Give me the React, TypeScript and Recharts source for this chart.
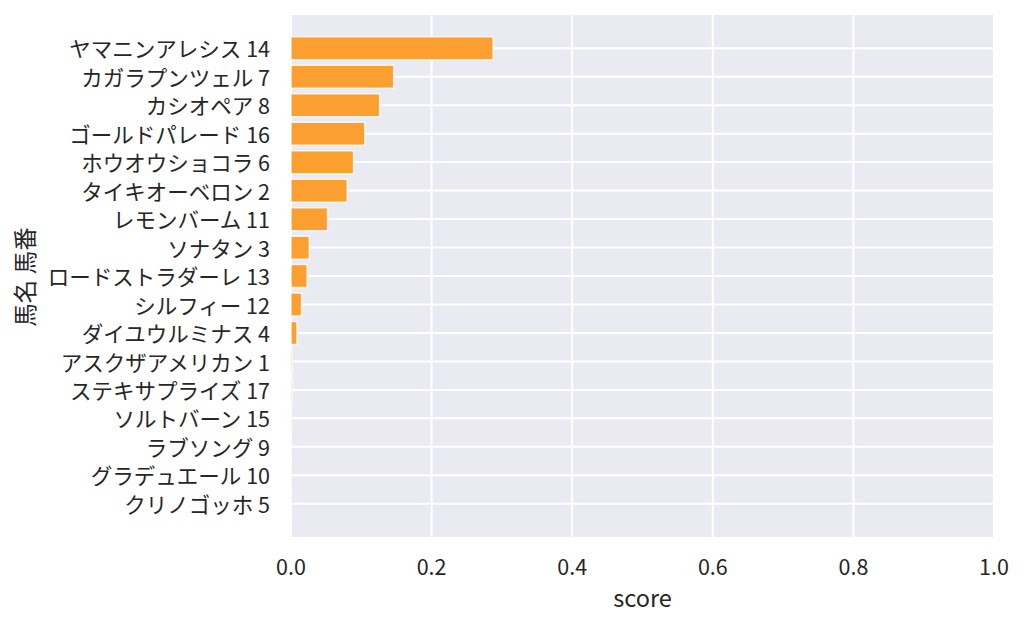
import { Bar, BarChart, CartesianGrid, XAxis, YAxis } from "recharts";

// horse name + number, top to bottom
const horses = [
  "ヤマニンアレシス 14",
  "カガラプンツェル 7",
  "カシオペア 8",
  "ゴールドパレード 16",
  "ホウオウショコラ 6",
  "タイキオーベロン 2",
  "レモンバーム 11",
  "ソナタン 3",
  "ロードストラダーレ 13",
  "シルフィー 12",
  "ダイユウルミナス 4",
  "アスクザアメリカン 1",
  "ステキサプライズ 17",
  "ソルトバーン 15",
  "ラブソング 9",
  "グラデュエール 10",
  "クリノゴッホ 5",
];

const scores = [
  0.2875, 0.146, 0.126, 0.105, 0.089, 0.08, 0.052, 0.026, 0.023, 0.015,
  0.0085, 0.002, 0.002, 0.0008, 0.0005, 0.0005, 0.0003,
];

const xTicks = [0, 0.2, 0.4, 0.6, 0.8, 1.0];

const data = horses.map((name, i) => ({ name, score: scores[i] }));

const FONT = '"Noto Sans CJK JP", "Noto Sans", sans-serif';
const TEXT = "#262626";
const FS = 21.5; // tick labels
const LFS = 23.5; // axis titles

export default function App() {
  return (
    <div style={{ position: "absolute", left: 0, top: 0 }}>
      <BarChart
        width={1024}
        height={627}
        data={data}
        layout="vertical"
        margin={{ top: 14, right: 30, bottom: 0, left: 0 }}
        barCategoryGap="10%"
        style={{ fontFamily: FONT }}
      >
        <CartesianGrid fill="#EAEAF2" stroke="#ffffff" strokeWidth={2} />
        <XAxis
          type="number"
          dataKey="score"
          domain={[0, 1]}
          ticks={xTicks}
          tickFormatter={(v: number) => v.toFixed(1)}
          tickLine={false}
          axisLine={false}
          tickMargin={16}
          height={89}
          tick={{ fontSize: FS, fill: TEXT }}
          label={{
            value: "score",
            position: "insideBottom",
            offset: 20,
            fontSize: LFS,
            fill: TEXT,
          }}
        />
        <YAxis
          type="category"
          dataKey="name"
          width={291}
          tickLine={false}
          axisLine={false}
          tickMargin={15}
          interval={0}
          padding={{ top: 20, bottom: 20 }}
          tick={{ fontSize: FS, fill: TEXT, dy: 1.5 }}
          label={{
            content: () => (
              <text
                x={24}
                y={277}
                transform="rotate(-90 24 277)"
                textAnchor="middle"
                dominantBaseline="central"
                fontSize={LFS}
                fill={TEXT}
                fontFamily={FONT}
              >
                馬名 馬番
              </text>
            ),
          }}
        />
        <Bar
          dataKey="score"
          fill="#FB9F31"
          stroke="#ffffff"
          strokeOpacity={0.8}
          strokeWidth={1.5}
          isAnimationActive={false}
        />
      </BarChart>
    </div>
  );
}
